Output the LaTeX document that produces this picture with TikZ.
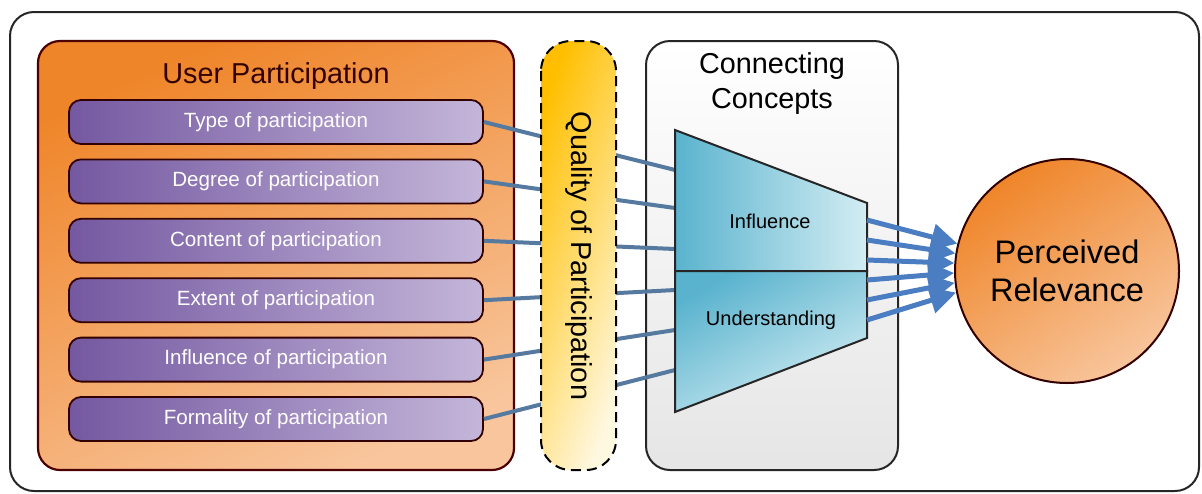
\documentclass[tikz,border=0pt]{standalone}
\usepackage{fontspec}
\setmainfont{Liberation Sans}
\usetikzlibrary{arrows.meta}

\definecolor{upOrange}{HTML}{EF8529}
\definecolor{upOrangeLight}{HTML}{F8C59C}
\definecolor{partPurple}{HTML}{7458A1}
\definecolor{partPurpleLight}{HTML}{C4B6D9}
\definecolor{qualYellow}{HTML}{FFBF00}
\definecolor{qualYellowLight}{HTML}{FFF8E0}
\definecolor{trapBlue}{HTML}{5AB3CE}
\definecolor{trapBlueLight}{HTML}{D3EDF3}
\definecolor{lineBlue}{HTML}{55799F}
\definecolor{arrowBlue}{HTML}{4A7DC2}

\tikzset{
  partbox/.style={draw=black!80!red, line width=0.9pt, rounded corners=6pt,
    minimum width=207pt, minimum height=22pt, left color=partPurple,
    right color=partPurpleLight, text=white, font=\fontsize{10.3}{12}\selectfont},
  bigtext/.style={font=\fontsize{14.4}{17.5}\selectfont, align=center},
  linkline/.style={lineBlue, line width=2pt},
  relarrow/.style={arrowBlue, line width=2.5pt, -{Triangle[length=13pt, width=13pt]}}
}

\begin{document}
\begin{tikzpicture}[x=0.5pt, y=-0.5pt]
        \useasboundingbox (0,0) rectangle (1202,493);

        % outer frame
        \draw[black!85, line width=1pt, rounded corners=12pt] (10,12) rectangle (1199,491);

        % user participation
        \draw[black!70!red, line width=1.1pt, rounded corners=11pt, top color=upOrange,
          bottom color=upOrangeLight, shading angle=25] (38,41) rectangle (514,470);
        \node[bigtext, text=black!80!red] (uptitle) at (276,76) {User Participation};

        \foreach \i/\t in {1/Type, 2/Degree, 3/Content, 4/Extent, 5/Influence, 6/Formality} {
          \node[partbox] (p\i) at (276, {122 + 59.4*(\i-1)}) {\t\ of participation};
        }

        % connecting concepts
        \draw[black!85, line width=1pt, rounded corners=12pt, top color=white,
          bottom color=black!10] (646,41) rectangle (898,470);
        \node[bigtext] (cctitle) at (772,84) {Connecting\\Concepts};

        \foreach \i/\y in {1/170, 2/208, 3/249, 4/290, 5/330, 6/370} {
          \coordinate (t\i) at (675,\y);
          \draw[linkline] (p\i.east) -- (t\i);
        }

        % quality of participation
        \draw[black, line width=1pt, dash pattern=on 5pt off 3pt, rounded corners=15pt,
          top color=qualYellow, bottom color=qualYellowLight, shading angle=70]
          (541,41) rectangle (616,470);
        \node[bigtext, rotate=-90] (quality) at (579,256) {Quality of Participation};

        % trapezoid
        \draw[black!85, line width=1pt, left color=trapBlue, right color=trapBlueLight]
          (675,130) -- (867,203) -- (867,271) -- (675,271) -- cycle;
        \draw[black!85, line width=1pt, top color=trapBlue, bottom color=trapBlueLight,
          shading angle=30] (675,271) -- (867,271) -- (867,338) -- (675,412) -- cycle;
        \node[font=\fontsize{10}{12}\selectfont] (infl) at (770,221) {Influence};
        \node[font=\fontsize{10}{12}\selectfont] (under) at (771,320) {Understanding};

        % perceived relevance
        \node[circle, draw=black!80!red, line width=1pt, minimum size=112pt,
          top color=upOrange, bottom color=upOrangeLight, shading angle=35,
          bigtext, font=\fontsize{16.3}{19}\selectfont] (rel) at (1067,271)
          {Perceived\\Relevance};

        \foreach \i/\a in {1/166, 2/171, 3/176, 4/181, 5/186, 6/191} {
          \coordinate (a\i) at (867, {220 + 20*(\i-1)});
          \draw[relarrow] (a\i) -- (rel.\a);
        }
      \end{tikzpicture}
\end{document}
